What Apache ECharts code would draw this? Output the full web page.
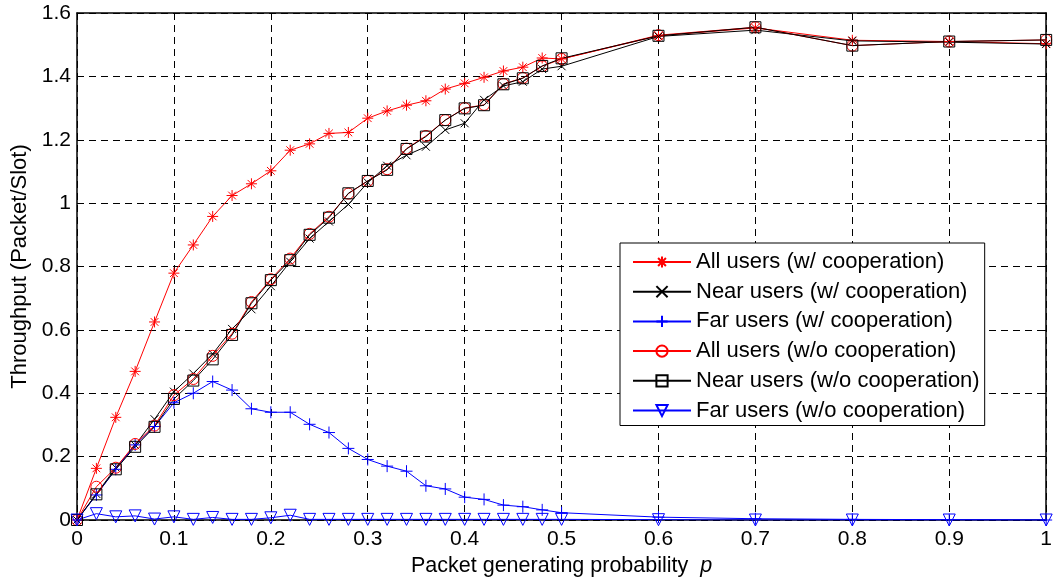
<!DOCTYPE html>
<html>
<head>
<meta charset="utf-8">
<title>Throughput vs packet generating probability</title>
<script src="https://cdn.jsdelivr.net/npm/echarts@6/dist/echarts.min.js"></script>
<style>
  html, body { margin: 0; padding: 0; background: #fff; }
  #chart { width: 1055px; height: 583px; }
</style>
</head>
<body>
<div id="chart"></div>
<script>
// Packet generating probability p (x values)
const pValues = [0, 0.02, 0.04, 0.06, 0.08, 0.10, 0.12, 0.14, 0.16, 0.18, 0.20, 0.22, 0.24, 0.26, 0.28,
  0.30, 0.32, 0.34, 0.36, 0.38, 0.40, 0.42, 0.44, 0.46, 0.48, 0.50, 0.6, 0.7, 0.8, 0.9, 1.0];

// Throughput (packet/slot) per scheme
const allUsersCoop = [0, 0.163, 0.324, 0.469, 0.625, 0.779, 0.868, 0.958, 1.024, 1.061, 1.102, 1.167, 1.187, 1.220, 1.223,
  1.268, 1.291, 1.309, 1.323, 1.360, 1.378, 1.397, 1.417, 1.429, 1.458, 1.455, 1.528, 1.553, 1.514, 1.510, 1.503];
const nearUsersCoop = [0, 0.082, 0.165, 0.236, 0.318, 0.405, 0.462, 0.524, 0.603, 0.665, 0.738, 0.815, 0.888, 0.942, 0.996,
  1.065, 1.118, 1.151, 1.178, 1.231, 1.252, 1.326, 1.370, 1.383, 1.423, 1.432, 1.526, 1.546, 1.512, 1.508, 1.502];
const farUsersCoop = [0, 0.079, 0.160, 0.237, 0.295, 0.370, 0.400, 0.437, 0.410, 0.351, 0.340, 0.340, 0.302, 0.276, 0.226,
  0.191, 0.170, 0.154, 0.108, 0.098, 0.072, 0.065, 0.047, 0.042, 0.032, 0.023, 0.009, 0.004, 0.002, 0.001, 0];
const allUsersNoCoop = [0, 0.105, 0.165, 0.240, 0.298, 0.394, 0.445, 0.518, 0.588, 0.688, 0.760, 0.825, 0.903, 0.957, 1.030,
  1.070, 1.107, 1.172, 1.212, 1.262, 1.300, 1.310, 1.376, 1.395, 1.432, 1.455, 1.530, 1.555, 1.497, 1.510, 1.515];
const nearUsersNoCoop = [0, 0.081, 0.160, 0.231, 0.294, 0.382, 0.440, 0.507, 0.584, 0.684, 0.757, 0.820, 0.900, 0.954, 1.031,
  1.070, 1.105, 1.171, 1.210, 1.262, 1.299, 1.309, 1.375, 1.394, 1.433, 1.457, 1.528, 1.555, 1.497, 1.510, 1.515];
const farUsersNoCoop = [0, 0.020, 0.010, 0.013, 0.003, 0.010, 0.002, 0.008, 0.002, 0.002, 0.007, 0.015, 0.002, 0.002, 0.002,
  0.002, 0.002, 0.002, 0.002, 0.002, 0.002, 0.002, 0.002, 0.002, 0.002, 0.002, 0.001, 0, 0, 0, 0];

// Series names (legend order)
const seriesNames = [
  'All users (w/ cooperation)',
  'Near users (w/ cooperation)',
  'Far users (w/ cooperation)',
  'All users (w/o cooperation)',
  'Near users (w/o cooperation)',
  'Far users (w/o cooperation)'
];

// Tick labels
const xTickLabels = ['0', '0.1', '0.2', '0.3', '0.4', '0.5', '0.6', '0.7', '0.8', '0.9', '1'];
const yTickLabels = ['0', '0.2', '0.4', '0.6', '0.8', '1', '1.2', '1.4', '1.6'];

const FONT = '"Liberation Sans", Arial, Helvetica, sans-serif';

// Stroke-only marker shapes
const ASTERISK = 'path://M0,-6L0,6M-6,0L6,0M-4.2,-4.2L4.2,4.2M-4.2,4.2L4.2,-4.2';
const PLUS = 'path://M0,-6L0,6M-6,0L6,0';
const CROSS = 'path://M-5,-5L5,5M-5,5L5,-5';

function pairs(ys) {
  return pValues.map((x, i) => [x, ys[i]]);
}

function lineSeries(name, ys, color, symbol, size, rotate) {
  return {
    name: name,
    type: 'line',
    data: pairs(ys),
    symbol: symbol,
    symbolSize: size,
    symbolRotate: rotate || 0,
    showAllSymbol: true,
    lineStyle: { color: color, width: 1 },
    itemStyle: { color: 'rgba(0,0,0,0)', borderColor: color, borderWidth: 1 },
    emphasis: { disabled: true },
    z: 3
  };
}

const chart = echarts.init(document.getElementById('chart'), null, { renderer: 'canvas' });

const axisLineStyle = { color: '#000', width: 1.5 };
const tickStyle = { color: '#000', width: 1 };

chart.setOption({
  animation: false,
  backgroundColor: '#fff',
  grid: { left: 77, right: 6, top: 13, bottom: 63, containLabel: false },
  xAxis: [
    {
      type: 'value', min: 0, max: 1, interval: 0.1, position: 'bottom',
      axisLine: { show: true, onZero: false, lineStyle: axisLineStyle },
      axisTick: { show: true, inside: true, length: 5, lineStyle: tickStyle },
      axisLabel: {
        show: true, margin: 9, color: '#000', fontSize: 21, fontFamily: FONT,
        formatter: v => xTickLabels[Math.round(v * 10)]
      },
      splitLine: { show: true, lineStyle: { color: '#000', width: 1, type: [7, 5] } },
      name: 'Packet generating probability  {i|p}',
      nameLocation: 'middle',
      nameGap: 34,
      nameTextStyle: {
        color: '#000', fontSize: 21.5, fontFamily: FONT,
        rich: { i: { fontStyle: 'italic', fontSize: 21.5, fontFamily: FONT, color: '#000' } }
      }
    },
    {
      type: 'value', min: 0, max: 1, interval: 0.1, position: 'top',
      axisLine: { show: true, onZero: false, lineStyle: axisLineStyle },
      axisTick: { show: true, inside: true, length: 5, lineStyle: tickStyle },
      axisLabel: { show: false },
      splitLine: { show: false }
    }
  ],
  yAxis: [
    {
      type: 'value', min: 0, max: 1.6, interval: 0.2, position: 'left',
      axisLine: { show: true, onZero: false, lineStyle: axisLineStyle },
      axisTick: { show: true, inside: true, length: 5, lineStyle: tickStyle },
      axisLabel: {
        show: true, margin: 6, color: '#000', fontSize: 21, fontFamily: FONT,
        formatter: v => yTickLabels[Math.round(v * 5)]
      },
      splitLine: { show: true, lineStyle: { color: '#000', width: 1, type: [7, 5] } },
      name: 'Throughput (Packet/Slot)',
      nameLocation: 'middle',
      nameGap: 43,
      nameTextStyle: { color: '#000', fontSize: 22, fontFamily: FONT }
    },
    {
      type: 'value', min: 0, max: 1.6, interval: 0.2, position: 'right',
      axisLine: { show: true, onZero: false, lineStyle: axisLineStyle },
      axisTick: { show: true, inside: true, length: 5, lineStyle: tickStyle },
      axisLabel: { show: false },
      splitLine: { show: false }
    }
  ],
  legend: {
    orient: 'vertical',
    left: 620,
    top: 243,
    itemWidth: 58,
    itemHeight: 14,
    itemGap: 7.7,
    padding: [8, 5, 4, 12],
    backgroundColor: '#fff',
    borderColor: '#000',
    borderWidth: 1,
    selectedMode: false,
    textStyle: { color: '#000', fontSize: 22, fontFamily: FONT, lineHeight: 21.5 },
    data: seriesNames,
    z: 10
  },
  series: [
    lineSeries(seriesNames[0], allUsersCoop, '#ff0000', ASTERISK, 11),
    lineSeries(seriesNames[1], nearUsersCoop, '#000000', CROSS, 8),
    lineSeries(seriesNames[2], farUsersCoop, '#0000ff', PLUS, 12),
    lineSeries(seriesNames[3], allUsersNoCoop, '#ff0000', 'circle', 11),
    lineSeries(seriesNames[4], nearUsersNoCoop, '#000000', 'rect', 11),
    lineSeries(seriesNames[5], farUsersNoCoop, '#0000ff', 'triangle', 12, 180)
  ]
});
</script>
</body>
</html>
